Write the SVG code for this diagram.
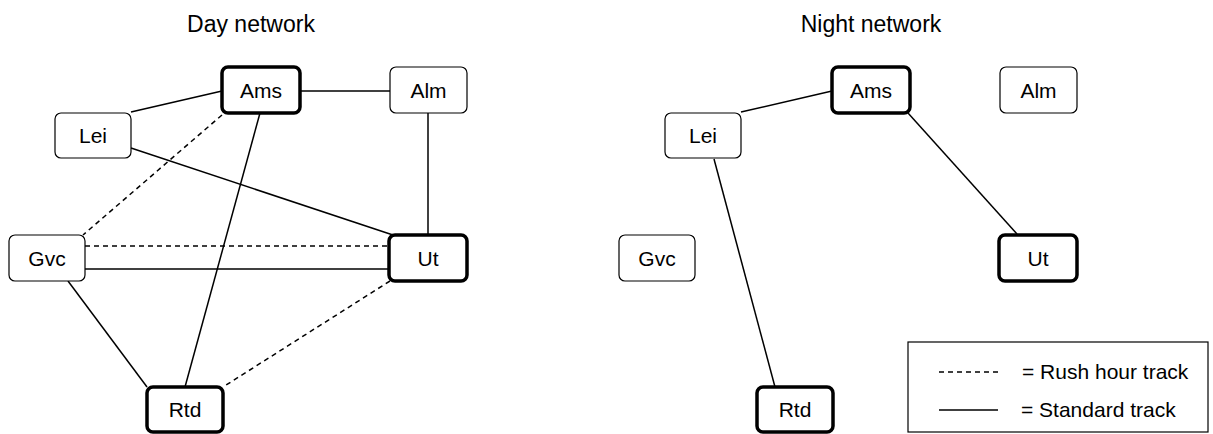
<svg xmlns="http://www.w3.org/2000/svg" width="1213" height="434" viewBox="0 0 1213 434">
<style>
text{font-family:"Liberation Sans",Arial,sans-serif;fill:#000}
.title{font-size:23px;text-anchor:middle}
.lbl{font-size:21px;text-anchor:middle;dominant-baseline:central}
.leg{font-size:21px}
.n rect{fill:#fff;stroke:#000;stroke-width:1.2}
.n.hub rect{stroke-width:3.5}
.e{stroke:#000;stroke-width:1.5;fill:none}
.d{stroke-dasharray:5 4}
</style>
<rect width="1213" height="434" fill="#fff"/>
<text class="title" x="251" y="32">Day network</text>
<text class="title" x="871" y="32">Night network</text>
<g id="connectors">
  <line class="e" x1="131" y1="112" x2="222" y2="91"/>
  <line class="e" x1="300" y1="91" x2="390" y2="91"/>
  <line class="e" x1="428" y1="113" x2="428" y2="235"/>
  <line class="e" x1="260" y1="113" x2="185" y2="387"/>
  <line class="e" x1="131" y1="148" x2="393" y2="235"/>
  <line class="e d" x1="222" y1="115" x2="83" y2="235"/>
  <line class="e d" x1="85" y1="246" x2="389" y2="246"/>
  <line class="e" x1="85" y1="269" x2="389" y2="269"/>
  <line class="e" x1="68" y1="281" x2="147" y2="387"/>
  <line class="e d" x1="390" y1="281" x2="223" y2="387"/>
  <line class="e" x1="741" y1="112" x2="832" y2="91"/>
  <line class="e" x1="908" y1="113" x2="1017" y2="234"/>
  <line class="e" x1="714" y1="159" x2="775" y2="387"/>
</g>
<g id="day-ams" class="n hub"><rect x="222" y="67" width="78" height="46" rx="6"/><text class="lbl" x="261" y="90">Ams</text></g>
<g id="day-alm" class="n"><rect x="390" y="67" width="77" height="46" rx="6"/><text class="lbl" x="428.5" y="90">Alm</text></g>
<g id="day-lei" class="n"><rect x="55" y="113" width="76" height="45" rx="6"/><text class="lbl" x="93" y="135.5">Lei</text></g>
<g id="day-gvc" class="n"><rect x="9" y="235" width="76" height="46" rx="6"/><text class="lbl" x="47" y="258">Gvc</text></g>
<g id="day-ut" class="n hub"><rect x="389" y="235" width="78" height="46" rx="6"/><text class="lbl" x="428" y="258">Ut</text></g>
<g id="day-rtd" class="n hub"><rect x="147" y="387" width="76" height="45" rx="6"/><text class="lbl" x="185" y="409.5">Rtd</text></g>
<g id="night-ams" class="n hub"><rect x="832" y="67" width="78" height="46" rx="6"/><text class="lbl" x="871" y="90">Ams</text></g>
<g id="night-alm" class="n"><rect x="1000" y="67" width="77" height="46" rx="6"/><text class="lbl" x="1038.5" y="90">Alm</text></g>
<g id="night-lei" class="n"><rect x="665" y="113" width="76" height="45" rx="6"/><text class="lbl" x="703" y="135.5">Lei</text></g>
<g id="night-gvc" class="n"><rect x="619" y="235" width="76" height="46" rx="6"/><text class="lbl" x="657" y="258">Gvc</text></g>
<g id="night-ut" class="n hub"><rect x="999" y="235" width="78" height="46" rx="6"/><text class="lbl" x="1038" y="258">Ut</text></g>
<g id="night-rtd" class="n hub"><rect x="757" y="387" width="76" height="45" rx="6"/><text class="lbl" x="795" y="409.5">Rtd</text></g>
<g id="legend">
  <rect x="908" y="342" width="300" height="90" fill="#fff" stroke="#000" stroke-width="1.2"/>
  <line class="e d" x1="939" y1="372" x2="998" y2="372" stroke-width="1.2"/>
  <line class="e" x1="939" y1="410" x2="998" y2="410" stroke-width="1.2"/>
  <text class="leg" x="1022" y="379">= Rush hour track</text>
  <text class="leg" x="1021" y="417">= Standard track</text>
</g>
</svg>
